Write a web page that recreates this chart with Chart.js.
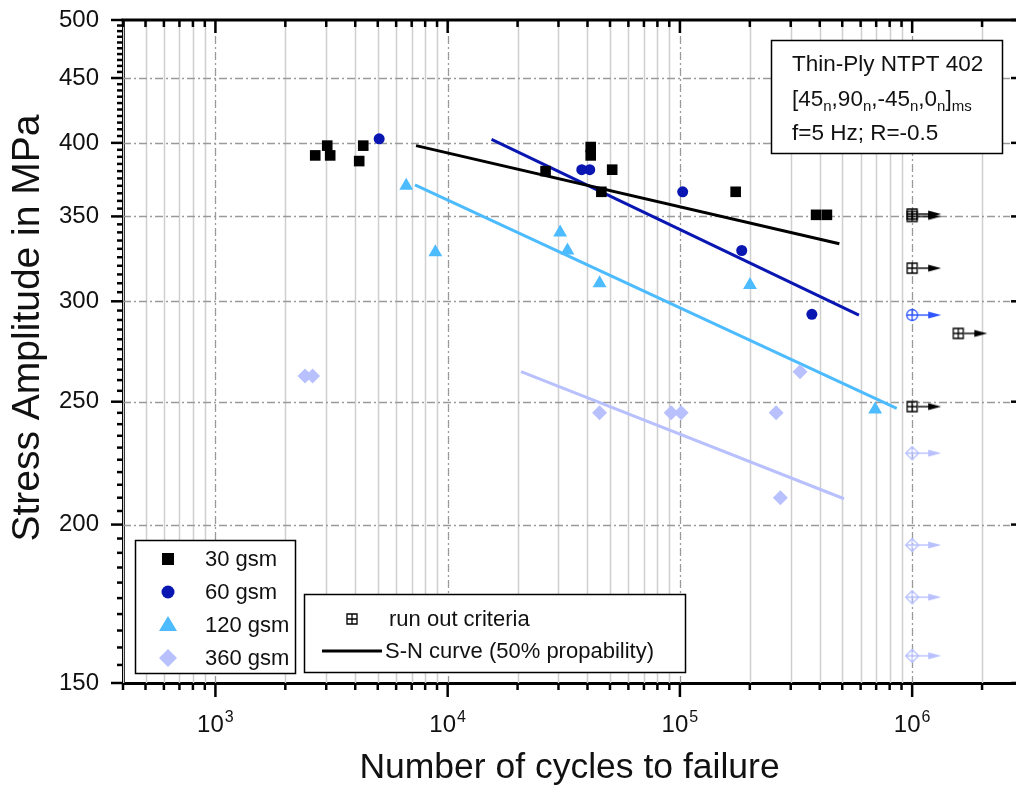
<!DOCTYPE html>
<html>
<head>
<meta charset="utf-8">
<script src="https://cdn.jsdelivr.net/npm/chart.js@4.4.0/dist/chart.umd.min.js"></script>
<style>
 html,body{margin:0;padding:0;background:#fff;overflow:hidden;}
 #wrap{width:1016px;height:792px;position:relative;}
 #chart{display:block;}
</style>
</head>
<body>
<div id="wrap"><canvas id="chart"></canvas></div>
<script>
// S-N data (cycles to failure vs stress amplitude in MPa)
const gsm30_N = [2690, 3030, 3120, 4160, 4330, 26400, 41300, 41300, 51100, 45900, 173800, 385800, 429500];
const gsm30_S = [391, 398, 391, 387, 398, 380, 397, 391, 381, 366, 366, 351, 351];
const gsm60_N = [5070, 37800, 40900, 102800, 184600, 370000];
const gsm60_S = [403, 381, 381, 366, 329, 293];
const gsm120_N = [6630, 8850, 30500, 32800, 45100, 200300, 693000];
const gsm120_S = [370, 328, 340, 329, 310, 309, 246.5];
const gsm360_N = [2430, 2620, 45100, 91700, 101300, 259600, 329200, 270800];
const gsm360_S = [262, 262, 245, 245, 245, 245, 264, 210];

// S-N curves (50% probability), start and end points
const sn30_N = [7310, 486000],   sn30_S = [398, 333];
const sn60_N = [15450, 590000],  sn60_S = [402.6, 292.6];
const sn120_N = [7230, 858000],  sn120_S = [370.6, 247];
const sn360_N = [20700, 509000], sn360_S = [264, 209.6];

// run outs
const run30_N = [1e6, 1e6, 1e6, 1.58e6, 1e6];
const run30_S = [351.5, 350, 318.6, 283, 247.8];
const run60_N = [1e6];
const run60_S = [292.6];
const run360_N = [1e6, 1e6, 1e6, 1e6];
const run360_S = [227.7, 192.7, 175.3, 157.6];

const xMajorTicks = [1e3, 1e4, 1e5, 1e6];
const xTickBase = '10';
const xTickExp = ['3', '4', '5', '6'];
const yMajorTicks = [150, 200, 250, 300, 350, 400, 450, 500];
const seriesNames = ['30 gsm', '60 gsm', '120 gsm', '360 gsm'];

const xMin = 400, xMax = 2.8e6, yMin = 150, yMax = 500;

const FONT = '"Liberation Sans", Arial, sans-serif';
const C30 = '#000000', C60 = '#0a16b2', C120 = '#4dbbff', C360 = '#b8c1fe';

const pts = (xs, ys) => xs.map((v, i) => ({x: v, y: ys[i]}));

// minor ticks (2..9 per decade, every 5 MPa)
const xMinor = [];
for (let k = 2; k <= 6; k++) for (let m = 1; m <= 9; m++) {
  const v = m * Math.pow(10, k);
  if (v >= xMin && v <= xMax) xMinor.push(v);
}
const yMinor = [];
for (let v = yMin; v <= yMax; v += 5) yMinor.push(v);

// run out marker: open symbol with a cross + arrow to the right
function marker(shape, col, arrowCol, arrow) {
  const half = arrow ? 34 : 10;
  const c = document.createElement('canvas');
  c.width = half * 2; c.height = 20;
  const g = c.getContext('2d');
  const cx = half, cy = 10;
  g.strokeStyle = col; g.lineWidth = 1.3;
  g.beginPath();
  if (shape === 'square') {
    g.rect(cx - 5, cy - 5, 10, 10);
    g.moveTo(cx, cy - 5); g.lineTo(cx, cy + 5);
    g.moveTo(cx - 5, cy); g.lineTo(cx + 5, cy);
  } else if (shape === 'circle') {
    g.arc(cx, cy, 5.5, 0, Math.PI * 2);
    g.moveTo(cx, cy - 5.5); g.lineTo(cx, cy + 5.5);
    g.moveTo(cx - 5.5, cy); g.lineTo(cx + 5.5, cy);
  } else {
    g.moveTo(cx, cy - 6.5); g.lineTo(cx + 6.5, cy); g.lineTo(cx, cy + 6.5); g.lineTo(cx - 6.5, cy); g.closePath();
    g.moveTo(cx, cy - 6.5); g.lineTo(cx, cy + 6.5);
    g.moveTo(cx - 6.5, cy); g.lineTo(cx + 6.5, cy);
  }
  g.stroke();
  if (arrow) {
    g.strokeStyle = arrowCol; g.fillStyle = arrowCol; g.lineWidth = 1.4;
    g.beginPath(); g.moveTo(cx + 6, cy); g.lineTo(cx + 18, cy); g.stroke();
    g.beginPath(); g.moveTo(cx + 16, cy - 3.5); g.lineTo(cx + 29, cy); g.lineTo(cx + 16, cy + 3.5); g.closePath(); g.fill();
  }
  return c;
}

const scatter = (label, xs, ys, col, style, r) => ({
  type: 'scatter', label, data: pts(xs, ys),
  pointStyle: style, pointRadius: r, backgroundColor: col, borderColor: col, borderWidth: 0
});
const curve = (xs, ys, col) => ({
  type: 'line', label: 'S-N curve', data: pts(xs, ys), borderColor: col, borderWidth: 3,
  pointRadius: 0, fill: false, tension: 0
});
const runout = (xs, ys, img) => ({
  type: 'scatter', label: 'run out', data: pts(xs, ys), pointStyle: img, pointRadius: 10, borderWidth: 0
});

const deco = {
  id: 'deco',
  // gridlines behind the data
  beforeDatasetsDraw(chart) {
    const {ctx, chartArea: a, scales: {x, y}} = chart;
    ctx.save();
    ctx.beginPath(); ctx.rect(a.left, a.top, a.right - a.left, a.bottom - a.top); ctx.clip();
    ctx.strokeStyle = '#cfcfcf'; ctx.lineWidth = 1.5;
    xMinor.forEach(v => {
      if (xMajorTicks.includes(v)) return;
      const px = Math.round(x.getPixelForValue(v)) + 0.5;
      ctx.beginPath(); ctx.moveTo(px, a.top); ctx.lineTo(px, a.bottom); ctx.stroke();
    });
    ctx.setLineDash([8, 3, 2, 3]); ctx.strokeStyle = '#9a9a9a'; ctx.lineWidth = 1.3;
    xMajorTicks.forEach(v => {
      const px = Math.round(x.getPixelForValue(v)) + 0.5;
      ctx.beginPath(); ctx.moveTo(px, a.top); ctx.lineTo(px, a.bottom); ctx.stroke();
    });
    yMajorTicks.forEach(v => {
      if (v === yMin || v === yMax) return;
      const py = Math.round(y.getPixelForValue(v)) + 0.5;
      ctx.beginPath(); ctx.moveTo(a.left, py); ctx.lineTo(a.right - 6, py); ctx.stroke();
    });
    ctx.restore();
  },
  // legends and the test-condition box
  afterDatasetsDraw(chart) {
    const ctx = chart.ctx;
    ctx.save();
    ctx.font = '22px ' + FONT; ctx.fillStyle = '#111'; ctx.textBaseline = 'middle';
    box(ctx, 135.5, 540.5, 160, 133);
    const rows = [559, 592, 625, 658];
    const cols = [C30, C60, C120, C360];
    rows.forEach((ry, i) => {
      sym(ctx, i, 168, ry, cols[i]);
      ctx.fillStyle = '#111';
      ctx.fillText(seriesNames[i], 205, ry + 1);
    });
    box(ctx, 304.5, 594.5, 381, 78);
    ctx.drawImage(marker('square', '#000', '#000', false), 352 - 10, 619 - 10);
    ctx.fillText('run out criteria', 389, 620);
    ctx.strokeStyle = '#000'; ctx.lineWidth = 3;
    ctx.beginPath(); ctx.moveTo(322, 651); ctx.lineTo(382, 651); ctx.stroke();
    ctx.fillText('S-N curve (50% propability)', 385, 652);
    box(ctx, 771.5, 40.5, 231, 113);
    ctx.textBaseline = 'alphabetic';
    ctx.font = '22.5px ' + FONT;
    ctx.fillText('Thin-Ply NTPT 402', 792, 71);
    rich(ctx, [['[45'], ['n', 1], [',90'], ['n', 1], [',-45'], ['n', 1], [',0'], ['n', 1], [']'], ['ms', 1]], 792, 106);
    ctx.font = '22.5px ' + FONT;
    ctx.fillText('f=5 Hz; R=-0.5', 792, 140);
    ctx.restore();
  },
  // top axis, tick marks, x tick labels, y title
  afterDraw(chart) {
    const {ctx, chartArea: a, scales: {x, y}} = chart;
    ctx.save();
    ctx.strokeStyle = '#000';
    ctx.lineWidth = 3;
    ctx.beginPath(); ctx.moveTo(a.left - 1.5, a.top); ctx.lineTo(a.right, a.top); ctx.stroke();
    ctx.lineWidth = 2.5;
    xMinor.forEach(v => {
      const px = x.getPixelForValue(v);
      const major = xMajorTicks.includes(v);
      ctx.beginPath(); ctx.moveTo(px, a.bottom); ctx.lineTo(px, a.bottom + (major ? 14 : 7)); ctx.stroke();
      ctx.beginPath(); ctx.moveTo(px, a.top); ctx.lineTo(px, a.top + (major ? 13 : 7)); ctx.stroke();
    });
    yMinor.forEach(v => {
      const py = y.getPixelForValue(v);
      const major = v % 50 === 0;
      ctx.beginPath(); ctx.moveTo(a.left, py); ctx.lineTo(a.left - (major ? 12 : 6), py); ctx.stroke();
      if (major) { ctx.beginPath(); ctx.moveTo(a.right, py); ctx.lineTo(a.right - 5, py); ctx.stroke(); }
    });
    // x tick labels: 10 with raised exponent
    ctx.fillStyle = '#111'; ctx.textBaseline = 'alphabetic';
    xMajorTicks.forEach((v, i) => {
      const px = x.getPixelForValue(v);
      ctx.font = '24px ' + FONT;
      const wb = ctx.measureText(xTickBase).width;
      ctx.font = '16px ' + FONT;
      const we = ctx.measureText(xTickExp[i]).width;
      const x0 = px - (wb + 1 + we) / 2;
      ctx.font = '24px ' + FONT;
      ctx.fillText(xTickBase, x0, 732);
      ctx.font = '16px ' + FONT;
      ctx.fillText(xTickExp[i], x0 + wb + 1, 722);
    });
    // y axis title
    ctx.translate(28, 328);
    ctx.rotate(-Math.PI / 2);
    ctx.font = '39px ' + FONT; ctx.textAlign = 'center'; ctx.textBaseline = 'middle';
    ctx.fillText('Stress Amplitude in MPa', 0, 0);
    ctx.restore();
  }
};

function box(ctx, x, y, w, h) {
  ctx.fillStyle = '#fff'; ctx.fillRect(x, y, w, h);
  ctx.strokeStyle = '#000'; ctx.lineWidth = 1.5; ctx.strokeRect(x, y, w, h);
  ctx.fillStyle = '#111';
}

function sym(ctx, i, x, y, col) {
  ctx.fillStyle = col;
  ctx.beginPath();
  if (i === 0) ctx.rect(x - 6, y - 6, 12, 12);
  else if (i === 1) ctx.arc(x, y, 6.5, 0, Math.PI * 2);
  else if (i === 2) { ctx.moveTo(x, y - 9); ctx.lineTo(x + 9, y + 6); ctx.lineTo(x - 9, y + 6); ctx.closePath(); }
  else { ctx.moveTo(x, y - 9); ctx.lineTo(x + 9, y); ctx.lineTo(x, y + 9); ctx.lineTo(x - 9, y); ctx.closePath(); }
  ctx.fill();
}

function rich(ctx, parts, x, y) {
  parts.forEach(([t, sub]) => {
    ctx.font = (sub ? '15px ' : '22.5px ') + FONT;
    ctx.fillText(t, x, sub ? y + 5 : y);
    x += ctx.measureText(t).width;
  });
}

new Chart(document.getElementById('chart'), {
  data: {
    datasets: [
      scatter(seriesNames[0], gsm30_N, gsm30_S, C30, 'rect', 7.5),
      scatter(seriesNames[1], gsm60_N, gsm60_S, C60, 'circle', 5.5),
      scatter(seriesNames[2], gsm120_N, gsm120_S, C120, 'triangle', 8),
      scatter(seriesNames[3], gsm360_N, gsm360_S, C360, 'rectRot', 7.5),
      curve(sn30_N, sn30_S, C30),
      curve(sn60_N, sn60_S, C60),
      curve(sn120_N, sn120_S, C120),
      curve(sn360_N, sn360_S, C360),
      runout(run30_N, run30_S, marker('square', '#000', '#000', true)),
      runout(run60_N, run60_S, marker('circle', '#2f55ff', '#2f55ff', true)),
      runout(run360_N, run360_S, marker('diamond', C360, C360, true))
    ]
  },
  options: {
    responsive: true, maintainAspectRatio: false, animation: false, events: [],
    layout: {autoPadding: false, padding: {top: 20, right: 0, bottom: 0, left: 0}},
    plugins: {legend: {display: false}, tooltip: {enabled: false}},
    scales: {
      x: {
        type: 'logarithmic', position: 'bottom', min: xMin, max: xMax,
        afterBuildTicks: s => { s.ticks = xMajorTicks.map(v => ({value: v})); },
        afterFit: s => { s.height = 109; s.paddingLeft = 0; s.paddingRight = 0; },
        grid: {display: false, drawTicks: false},
        border: {display: true, color: '#000', width: 3},
        ticks: {display: false},
        title: {display: true, text: 'Number of cycles to failure', color: '#111',
          font: {family: FONT, size: 35.5}, padding: {top: 0, bottom: 2}}
      },
      y: {
        type: 'logarithmic', position: 'left', min: yMin, max: yMax,
        afterBuildTicks: s => { s.ticks = yMajorTicks.map(v => ({value: v})); },
        afterFit: s => { s.width = 123; s.paddingTop = 0; s.paddingBottom = 0; },
        grid: {display: false, drawTicks: false},
        border: {display: true, color: '#000', width: 3},
        ticks: {autoSkip: false, padding: 24, color: '#111',
          font: {family: FONT, size: 24}, callback: v => String(v)},
        title: {display: false}
      }
    }
  },
  plugins: [deco]
});
</script>
</body>
</html>
